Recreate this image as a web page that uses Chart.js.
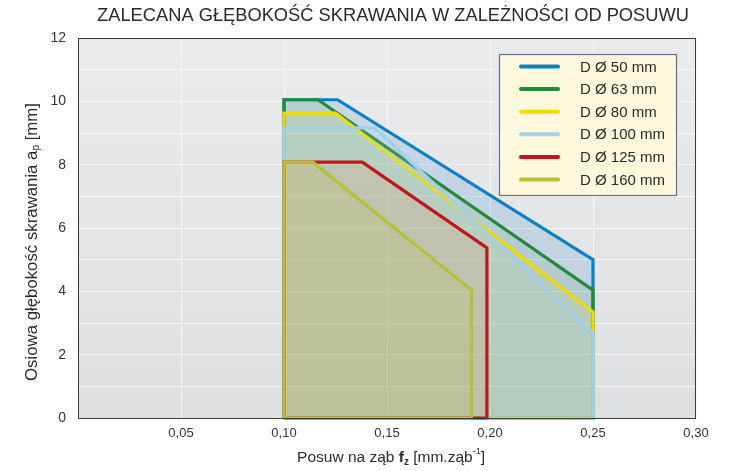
<!DOCTYPE html>
<html>
<head>
<meta charset="utf-8">
<script src="https://cdn.jsdelivr.net/npm/chart.js@4/dist/chart.umd.min.js"></script>
<style>
html,body{margin:0;padding:0;background:#ffffff;}
#wrap{width:738px;height:471px;position:relative;}
</style>
</head>
<body>
<div id="wrap"><canvas id="c" width="738" height="471"></canvas></div>
<script>
// ---- data ----
const titleText = 'ZALECANA GŁĘBOKOŚĆ SKRAWANIA W ZALEŻNOŚCI OD POSUWU';
const seriesLabels = ['D Ø 50 mm','D Ø 63 mm','D Ø 80 mm','D Ø 100 mm','D Ø 125 mm','D Ø 160 mm'];
const feed50  = [0.10, 0.10, 0.126, 0.25, 0.25, 0.10];
const depth50 = [0, 10.05, 10.05, 5.0, 0, 0];
const feed63  = [0.10, 0.10, 0.1165, 0.25, 0.25, 0.10];
const depth63 = [0, 10.05, 10.05, 4.04, 0, 0];
const feed80  = [0.10, 0.10, 0.125, 0.25, 0.25, 0.10];
const depth80 = [0, 9.63, 9.63, 3.35, 0, 0];
const feed100  = [0.10, 0.10, 0.144, 0.25, 0.25, 0.10];
const depth100 = [0, 9.16, 9.16, 2.68, 0, 0];
const feed125  = [0.10, 0.10, 0.138, 0.1985, 0.1985, 0.10];
const depth125 = [0, 8.08, 8.08, 5.37, 0, 0];
const feed160  = [0.10, 0.10, 0.114, 0.191, 0.191, 0.10];
const depth160 = [0, 8.08, 8.08, 4.04, 0, 0];
const xTicks = [0.05, 0.10, 0.15, 0.20, 0.25, 0.30];
const yTicks = [0, 2, 4, 6, 8, 10, 12];

// ---- styles ----
const lineColors = ['#0a80c4','#23893c','#f2dc00','#a2cfee','#c3141c','#b6c234'];
const fillColors = ['rgba(60,140,200,0.19)','rgba(40,150,60,0.10)','rgba(240,220,0,0.10)','rgba(170,215,240,0.15)','rgba(235,150,100,0.20)','rgba(185,200,60,0.15)'];
const FONT = '"Liberation Sans Narrow","Arial Narrow","Liberation Sans",Arial,sans-serif';

function pts(xs, ys){ return xs.map((x,i)=>({x:x, y:ys[i]})); }
const allX = [feed50,feed63,feed80,feed100,feed125,feed160];
const allY = [depth50,depth63,depth80,depth100,depth125,depth160];

const datasets = seriesLabels.map((lab,i)=>({
  label: lab,
  data: pts(allX[i], allY[i]),
  showLine: true,
  borderColor: lineColors[i],
  backgroundColor: fillColors[i],
  areaColor: fillColors[i],
  borderWidth: 3.2,
  pointRadius: 0,
  fill: false,
  tension: 0,
  borderJoinStyle: 'miter',
  order: seriesLabels.length - 1 - i,
  clip: 2
}));

const polyFill = {
  id: 'polyFill',
  beforeDatasetDraw(chart, args){
    const meta = args.meta;
    const ds = chart.data.datasets[args.index];
    const ctx = chart.ctx;
    const a = chart.chartArea;
    ctx.save();
    ctx.beginPath();
    ctx.rect(a.left, a.top, a.right-a.left, a.bottom-a.top);
    ctx.clip();
    ctx.beginPath();
    meta.data.forEach((p,k)=>{ if(k===0) ctx.moveTo(p.x,p.y); else ctx.lineTo(p.x,p.y); });
    ctx.closePath();
    ctx.fillStyle = ds.areaColor;
    ctx.fill();
    ctx.restore();
  }
};

const bgPlugin = {
  id: 'bgPlugin',
  beforeDraw(chart){
    const {ctx, chartArea:a} = chart;
    ctx.save();
    const g = ctx.createLinearGradient(0, a.top, 0, a.bottom);
    g.addColorStop(0, '#eaebed');
    g.addColorStop(1, '#dedfe1');
    ctx.fillStyle = g;
    ctx.fillRect(a.left, a.top, a.right-a.left, a.bottom-a.top);
    ctx.restore();
  },
  afterDraw(chart){
    const {ctx, chartArea:a} = chart;
    ctx.save();
    ctx.strokeStyle = '#3a3a3a';
    ctx.lineWidth = 1;
    ctx.strokeRect(a.left+0.5, a.top+0.5, a.right-a.left-1, a.bottom-a.top);
    ctx.fillStyle = '#2a2a2a';
    ctx.font = '18.3px ' + FONT;
    ctx.textAlign = 'center';
    ctx.textBaseline = 'middle';
    ctx.fillText(titleText, 393, 16);
    const parts = [
      {t:'Posuw na ząb ', f:'15.5px '+FONT, dy:0},
      {t:'f', f:'bold 15.5px '+FONT, dy:0},
      {t:'z', f:'bold 10px '+FONT, dy:4},
      {t:' [mm.ząb', f:'15.5px '+FONT, dy:0},
      {t:'-1', f:'9px '+FONT, dy:-6},
      {t:']', f:'15.5px '+FONT, dy:0}
    ];
    drawParts(ctx, parts, 391, 458);
    ctx.save();
    ctx.translate(32, 242);
    ctx.rotate(-Math.PI/2);
    const yparts = [
      {t:'Osiowa głębokość skrawania a', f:'16.8px '+FONT, dy:0},
      {t:'p', f:'10px '+FONT, dy:4},
      {t:' [mm]', f:'16.8px '+FONT, dy:0}
    ];
    drawParts(ctx, yparts, 0, 0);
    ctx.restore();
    const lx = 499, ly = 54, lw = 177, lh = 141;
    ctx.fillStyle = '#fbf8dc';
    ctx.fillRect(lx, ly, lw, lh);
    ctx.strokeStyle = '#6e6a90';
    ctx.lineWidth = 1.2;
    ctx.strokeRect(lx+0.5, ly+0.5, lw, lh);
    chart.data.datasets.forEach((ds,i)=>{
      const yy = 66.5 + i*22.6;
      ctx.strokeStyle = ds.borderColor;
      ctx.lineWidth = 4;
      ctx.lineCap = 'round';
      ctx.beginPath(); ctx.moveTo(521, yy); ctx.lineTo(558, yy); ctx.stroke();
      ctx.fillStyle = '#2a2a2a';
      ctx.font = '15px ' + FONT;
      ctx.textAlign = 'left';
      ctx.textBaseline = 'middle';
      ctx.fillText(ds.label, 580, yy+1);
    });
    ctx.restore();
  }
};
function drawParts(ctx, parts, cx, cy){
  let total = 0;
  parts.forEach(p=>{ ctx.font = p.f; p.w = ctx.measureText(p.t).width; total += p.w; });
  let x = cx - total/2;
  ctx.fillStyle = '#2a2a2a';
  ctx.textAlign = 'left';
  ctx.textBaseline = 'middle';
  parts.forEach(p=>{ ctx.font = p.f; ctx.fillText(p.t, x, cy + p.dy); x += p.w; });
}

new Chart(document.getElementById('c'), {
  type: 'scatter',
  data: { datasets },
  options: {
    responsive: false,
    animation: false,
    layout: { padding: { left: 0, top: 38, right: 42, bottom: 0 } },
    plugins: { legend: { display: false }, title: { display: false }, tooltip: { enabled: false } },
    scales: {
      x: {
        type: 'linear', min: 0, max: 0.30,
        afterBuildTicks(scale){ scale.ticks = [0].concat(xTicks).map(v=>({value:v})); },
        afterFit(scale){ scale.height = 53; },
        grid: { color: '#f7f7f7', lineWidth: 1, drawTicks: false },
        border: { display: false },
        ticks: {
          padding: 8,
          color: '#333',
          font: { family: FONT, size: 13 },
          maxRotation: 0,
          callback: (v)=> v === 0 ? '' : v.toFixed(2).replace('.', ',')
        }
      },
      y: {
        min: 0, max: 12,
        afterBuildTicks(scale){
          const t = [];
          for (let v = 0; v <= 12; v++) t.push({value:v});
          scale.ticks = t;
        },
        afterFit(scale){ scale.width = 78; },
        grid: { color: '#f7f7f7', lineWidth: 1, drawTicks: false },
        border: { display: false },
        ticks: {
          padding: 12,
          color: '#333',
          font: { family: FONT, size: 14 },
          callback: (v)=> yTicks.includes(v) ? String(v) : ''
        }
      }
    }
  },
  plugins: [bgPlugin, polyFill]
});
</script>
</body>
</html>
